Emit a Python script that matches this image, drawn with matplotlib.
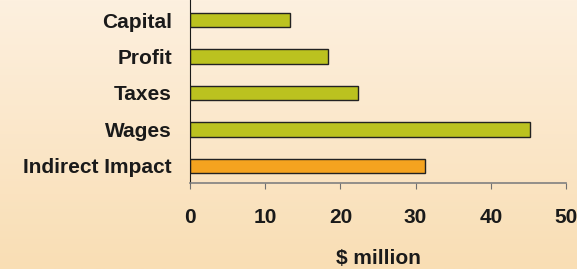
import numpy as np
import matplotlib.pyplot as plt
from matplotlib.colors import LinearSegmentedColormap

# data, top to bottom as in the chart
categories = ['Capital', 'Profit', 'Taxes', 'Wages', 'Indirect Impact']
values = [13.3, 18.3, 22.3, 45.2, 31.3]
bar_colors = ['#BBC21F', '#BBC21F', '#BBC21F', '#BBC21F', '#F5A31F']
xticks = [0, 10, 20, 30, 40, 50]

fig = plt.figure(figsize=(5.77, 2.69), dpi=100)

# background gradient (light cream at top -> peach at bottom)
bg = fig.add_axes([0, 0, 1, 1], zorder=-1)
grad = np.linspace(0, 1, 256).reshape(-1, 1)
cmap = LinearSegmentedColormap.from_list('bg', ['#FDF0DF', '#F9DEB4'])
bg.imshow(grad, aspect='auto', cmap=cmap, extent=[0, 1, 0, 1])
bg.axis('off')

ax = fig.add_axes([190 / 577, 1 - 183 / 269, 376 / 577, 183 / 269])
ax.patch.set_alpha(0)

pos = np.arange(len(categories))
ax.barh(pos, values, height=0.4, color=bar_colors,
        edgecolor='#222222', linewidth=1.0)

ax.set_xlim(0, 50)
ax.set_ylim(len(categories) - 1 + 0.47, -0.55)
ax.set_yticks(pos)
ax.set_yticklabels(categories)
ax.set_xticks(xticks)

fsize = 15
font = dict(family='Liberation Sans', weight='bold', size=fsize, color='#1a1a1a')
for lbl in ax.get_yticklabels() + ax.get_xticklabels():
    lbl.set_fontproperties('Liberation Sans')
    lbl.set_fontweight('bold')
    lbl.set_fontsize(fsize)
    lbl.set_color('#1a1a1a')

ax.tick_params(axis='y', length=0, pad=13)
ax.tick_params(axis='x', direction='out', length=4, color='#707070', pad=14)

ax.spines['top'].set_visible(False)
ax.spines['right'].set_visible(False)
ax.spines['left'].set_color('#1a1a1a')
ax.spines['bottom'].set_color('#808080')
ax.spines['bottom'].set_linewidth(1.2)

ax.set_xlabel('$ million', fontdict=font, labelpad=16)

fig.savefig('out.png', dpi=100)
